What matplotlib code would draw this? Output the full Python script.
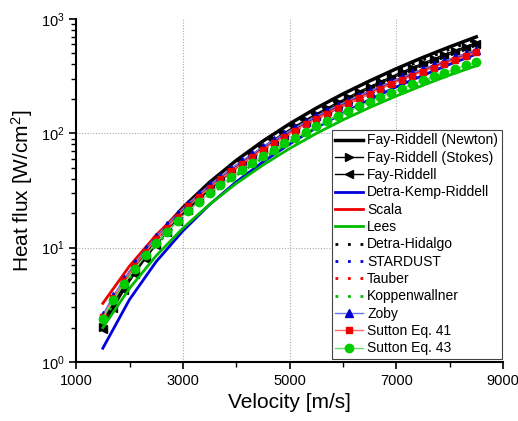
import numpy as np
import matplotlib
matplotlib.use("Agg")
import matplotlib.pyplot as plt
from matplotlib import ticker

plt.rcParams['font.family'] = ['Liberation Sans', 'DejaVu Sans']
plt.rcParams['mathtext.default'] = 'regular'

# Velocity grids [m/s]
v_line = [1500, 2000, 2500, 3000, 3500, 4000, 4500, 5000, 5500, 6000, 6500, 7000, 7500, 8000, 8500]
v_mark = list(range(1500, 8501, 200))

# Heat flux [W/cm^2], plain lines (read on the 500 m/s grid)
fay_newton = [2.28, 5.88, 12.3, 22.4, 37.3, 57.9, 85.4, 121, 166, 221, 287, 367, 461, 570, 697]
detra_kemp = [1.32, 3.52, 7.55, 14.0, 23.8, 37.6, 56.2, 80.5, 112, 150, 197, 254, 321, 401, 493]
scala = [3.26, 6.91, 12.9, 21.9, 34.7, 51.8, 74.4, 103, 138, 181, 231, 291, 360, 438, 530]
lees = [2.00, 4.41, 8.51, 14.8, 23.9, 36.4, 52.7, 73.6, 99.6, 131, 168, 212, 263, 323, 390]
detra_hidalgo = [2.17, 5.59, 11.7, 21.3, 35.4, 55.0, 81.1, 115, 158, 210, 273, 349, 438, 542, 662]
stardust = [2.52, 6.09, 12.1, 21.2, 34.1, 51.3, 73.6, 102, 137, 179, 227, 286, 354, 431, 520]
tauber = [2.47, 5.97, 11.9, 20.7, 33.3, 50.2, 72.2, 99.8, 134, 175, 223, 280, 346, 422, 510]
koppenwallner = [2.31, 5.43, 10.6, 18.1, 28.8, 42.8, 60.7, 83.1, 111, 143, 182, 226, 278, 337, 404]

# Series with markers (read on the 200 m/s grid)
fay_stokes = [2.03, 3.06, 4.42, 6.15, 8.30, 10.9, 14.1, 17.8, 22.2, 27.3, 33.2, 39.9,
              47.4, 55.9, 65.4, 76.0, 87.8, 101, 115, 131, 148, 166, 186, 207,
              231, 256, 282, 312, 343, 375, 410, 448, 487, 529, 573, 620]
fay_riddell = [1.96, 2.96, 4.27, 5.94, 8.02, 10.6, 13.6, 17.2, 21.5, 26.4, 32.1, 38.5,
               45.8, 54.0, 63.2, 73.4, 84.8, 97.2, 111, 126, 143, 160, 180, 200,
               223, 247, 273, 301, 331, 363, 396, 433, 470, 511, 554, 599]
zoby = [2.60, 3.81, 5.37, 7.30, 9.66, 12.5, 15.8, 19.6, 24.2, 29.3, 35.1, 41.6,
        48.9, 57.0, 66.0, 75.9, 86.8, 98.5, 111, 126, 141, 157, 175, 193,
        213, 234, 257, 282, 308, 336, 365, 395, 428, 462, 498, 536]
sutton41 = [2.47, 3.62, 5.10, 6.94, 9.18, 11.9, 15.0, 18.6, 23.0, 27.8, 33.3, 39.5,
            46.5, 54.2, 62.7, 72.1, 82.5, 93.6, 105, 120, 134, 149, 166, 183,
            202, 222, 244, 268, 293, 319, 347, 375, 407, 439, 473, 509]
sutton43 = [2.40, 3.48, 4.86, 6.54, 8.57, 11.0, 13.8, 17.1, 20.9, 25.1, 30.0, 35.3,
            41.4, 48.0, 55.3, 63.3, 72.1, 81.5, 91.8, 103, 115, 128, 142, 157,
            172, 189, 207, 226, 246, 268, 290, 314, 339, 365, 392, 421]

x_major = [1000, 3000, 5000, 7000, 9000]
x_minor = [2000, 4000, 6000, 8000]

fig = plt.figure(figsize=(5.18, 4.21), dpi=100)
ax = fig.add_axes([0.147, 0.140, 0.824, 0.815])

dots = (0, (1, 3.5))

ax.plot(v_line, fay_newton, color='black', lw=2.5, label='Fay-Riddell (Newton)')
ax.plot(v_mark, fay_stokes, color='black', lw=1, marker='>', ms=5.5, label='Fay-Riddell (Stokes)')
ax.plot(v_mark, fay_riddell, color='black', lw=1, marker='<', ms=5.5, label='Fay-Riddell')
ax.plot(v_line, detra_kemp, color='#0000dd', lw=2, label='Detra-Kemp-Riddell')
ax.plot(v_line, scala, color='#ee0000', lw=2, label='Scala')
ax.plot(v_line, lees, color='#00bb00', lw=2, label='Lees')
ax.plot(v_line, detra_hidalgo, color='black', lw=2, ls=dots, label='Detra-Hidalgo')
ax.plot(v_line, stardust, color='#0000dd', lw=2, ls=dots, label='STARDUST')
ax.plot(v_line, tauber, color='#ee0000', lw=2, ls=dots, label='Tauber')
ax.plot(v_line, koppenwallner, color='#00bb00', lw=2, ls=dots, label='Koppenwallner')
ax.plot(v_mark, zoby, color='#6677ee', lw=1, marker='^', ms=5.5, mfc='#0000cc', mec='#0000cc', label='Zoby')
ax.plot(v_mark, sutton41, color='#ff6666', lw=1, marker='s', ms=4.5, mfc='#ee0000', mec='#ee0000', label='Sutton Eq. 41')
ax.plot(v_mark, sutton43, color='#66dd66', lw=1, marker='o', ms=6, mfc='#00cc00', mec='#00cc00', label='Sutton Eq. 43')

ax.set_yscale('log')
ax.set_xlim(1000, 9000)
ax.set_ylim(1, 1000)

ax.xaxis.set_major_locator(ticker.FixedLocator(x_major))
ax.xaxis.set_minor_locator(ticker.FixedLocator(x_minor))

for x in [3000, 5000, 7000]:
    ax.axvline(x, color='#aaaaaa', lw=0.8, ls=(0, (1, 1.5)), zorder=0)
for y in [10, 100]:
    ax.axhline(y, color='#aaaaaa', lw=0.8, ls=(0, (1, 1.5)), zorder=0)

ax.spines['top'].set_visible(False)
ax.spines['right'].set_visible(False)
ax.spines['left'].set_linewidth(1.5)
ax.spines['bottom'].set_linewidth(1.5)
ax.tick_params(which='major', direction='out', length=5, width=1.2, labelsize=10.5)
ax.tick_params(which='minor', direction='out', length=3.5, width=1.0)

ax.set_xlabel('Velocity [m/s]', fontsize=15)
ax.set_ylabel('Heat flux [W/cm$^2$]', fontsize=15)

leg = ax.legend(loc='lower right', bbox_to_anchor=(1.0, 0.005), fontsize=10,
                fancybox=False, framealpha=1, edgecolor='#444444',
                handlelength=2.0, handletextpad=0.3, labelspacing=0.24,
                borderpad=0.25, borderaxespad=0.1)
leg.get_frame().set_linewidth(0.8)

fig.savefig('out.png', dpi=100)
